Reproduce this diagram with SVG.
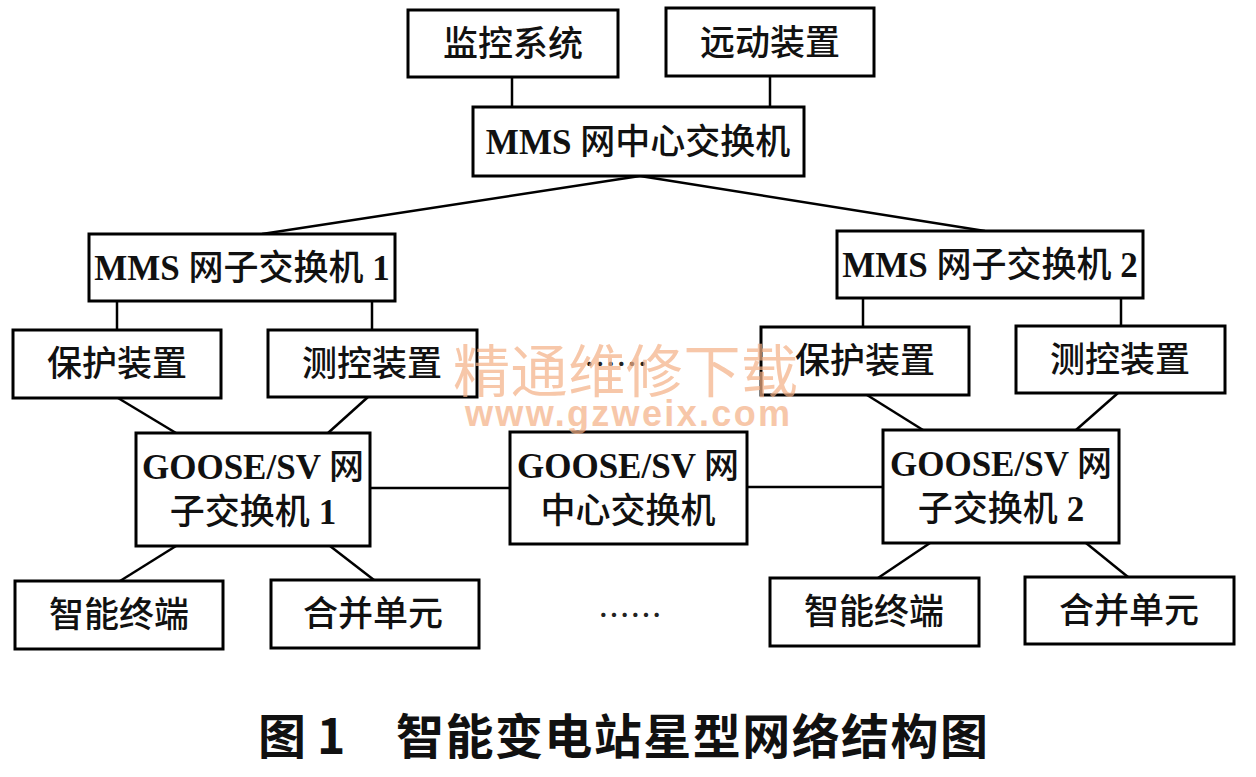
<svg xmlns="http://www.w3.org/2000/svg" width="1256" height="777" viewBox="0 0 1256 777">
<style>
.box{fill:#fff;stroke:#000;stroke-width:3}
.t{font-family:"Liberation Serif","Noto Sans CJK SC",serif;font-size:35px;font-weight:bold;fill:#111;text-anchor:middle}
.c{font-family:"Noto Sans CJK SC",sans-serif;font-weight:500}
.ln{stroke:#000;stroke-width:2.5;fill:none}
.dots{font-family:"Noto Sans CJK SC",sans-serif;font-size:32px;fill:#222;text-anchor:middle}
.cap{font-family:"Noto Sans CJK SC","Liberation Sans",sans-serif;font-size:48px;font-weight:bold;fill:#111}
.wm{font-family:"Noto Sans CJK SC",sans-serif;fill:#f4b085;opacity:0.7}
</style>
<rect width="1256" height="777" fill="#fff"/>
<g id="connectors">
<line class="ln" x1="512" y1="77" x2="512" y2="107"/>
<line class="ln" x1="770" y1="76" x2="770" y2="107"/>
<line class="ln" x1="640" y1="176" x2="262" y2="234"/>
<line class="ln" x1="640" y1="176" x2="985" y2="231"/>
<line class="ln" x1="117" y1="301" x2="117" y2="330"/>
<line class="ln" x1="372" y1="301" x2="372" y2="330"/>
<line class="ln" x1="863" y1="298" x2="863" y2="327"/>
<line class="ln" x1="1121" y1="298" x2="1121" y2="326"/>
<line class="ln" x1="118" y1="398" x2="176" y2="433"/>
<line class="ln" x1="368" y1="397" x2="328" y2="433"/>
<line class="ln" x1="867" y1="395" x2="923" y2="430"/>
<line class="ln" x1="1118" y1="393" x2="1076" y2="430"/>
<line class="ln" x1="370" y1="488" x2="510" y2="488"/>
<line class="ln" x1="747" y1="487" x2="883" y2="487"/>
<line class="ln" x1="176" y1="546" x2="120" y2="581"/>
<line class="ln" x1="330" y1="546" x2="374" y2="580"/>
<line class="ln" x1="930" y1="543" x2="878" y2="578"/>
<line class="ln" x1="1086" y1="543" x2="1128" y2="577"/>
</g>
<g id="jiankong"><rect class="box" x="408" y="10" width="210" height="67"/><text class="t c" x="513" y="56">监控系统</text></g>
<g id="yuandong"><rect class="box" x="666" y="8" width="208" height="68"/><text class="t c" x="770" y="55">远动装置</text></g>
<g id="mms-center"><rect class="box" x="473" y="107" width="331" height="69"/><text class="t" x="638" y="154">MMS <tspan class="c">网中心交换机</tspan></text></g>
<g id="mms-sub1"><rect class="box" x="89" y="234" width="306" height="67"/><text class="t" x="242" y="280">MMS <tspan class="c">网子交换机</tspan> 1</text></g>
<g id="mms-sub2"><rect class="box" x="837" y="231" width="306" height="67"/><text class="t" x="990" y="277">MMS <tspan class="c">网子交换机</tspan> 2</text></g>
<g id="baohu1"><rect class="box" x="13" y="330" width="208" height="68"/><text class="t c" x="117" y="376">保护装置</text></g>
<g id="cekong1"><rect class="box" x="268" y="330" width="209" height="67"/><text class="t c" x="372" y="376">测控装置</text></g>
<g id="baohu2"><rect class="box" x="761" y="327" width="208" height="68"/><text class="t c" x="865" y="373">保护装置</text></g>
<g id="cekong2"><rect class="box" x="1016" y="326" width="209" height="67"/><text class="t c" x="1120" y="372">测控装置</text></g>
<g id="goose1"><rect class="box" x="136" y="433" width="234" height="113"/><text class="t" x="253" y="479">GOOSE/SV <tspan class="c">网</tspan></text><text class="t" x="253" y="524"><tspan class="c">子交换机</tspan> 1</text></g>
<g id="goose-center"><rect class="box" x="510" y="432" width="237" height="112"/><text class="t" x="628" y="478">GOOSE/SV <tspan class="c">网</tspan></text><text class="t c" x="628" y="523">中心交换机</text></g>
<g id="goose2"><rect class="box" x="883" y="430" width="236" height="113"/><text class="t" x="1001" y="476">GOOSE/SV <tspan class="c">网</tspan></text><text class="t" x="1001" y="521"><tspan class="c">子交换机</tspan> 2</text></g>
<g id="zhineng1"><rect class="box" x="15" y="581" width="208" height="68"/><text class="t c" x="119" y="627">智能终端</text></g>
<g id="hebing1"><rect class="box" x="271" y="580" width="208" height="68"/><text class="t c" x="373" y="626">合并单元</text></g>
<g id="zhineng2"><rect class="box" x="770" y="578" width="209" height="68"/><text class="t c" x="874" y="624">智能终端</text></g>
<g id="hebing2"><rect class="box" x="1025" y="577" width="209" height="67"/><text class="t c" x="1129" y="623">合并单元</text></g>
<text class="dots" x="616" y="376">……</text>
<text class="dots" x="630" y="627">……</text>
<text class="cap" x="258" y="754">图 1</text>
<text class="cap" x="396" y="754" textLength="592">智能变电站星型网络结构图</text>
<g id="watermark">
<text class="wm" x="453" y="392" font-size="57" textLength="345">精通维修下载</text>
<text class="wm" x="465" y="426" font-size="36" font-weight="bold" textLength="325" style="font-family:'Liberation Sans',sans-serif">www.gzweix.com</text>
</g>
</svg>
